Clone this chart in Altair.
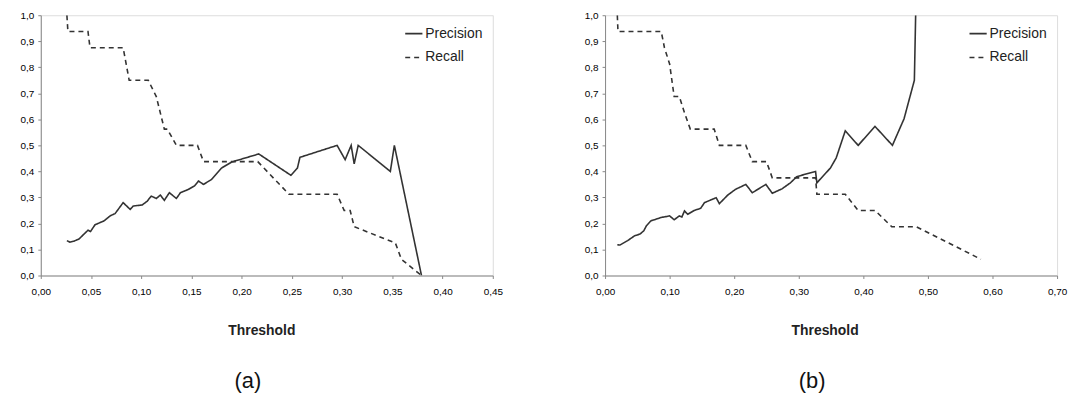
import altair as alt
import pandas as pd

# ---- panel (a) ----
a_prec_x = [0.026, 0.029, 0.033, 0.038, 0.043, 0.047, 0.0495, 0.054, 0.063, 0.069, 0.074, 0.082,
            0.089, 0.092, 0.101, 0.106, 0.110, 0.115, 0.119, 0.123, 0.128, 0.135, 0.139, 0.147,
            0.153, 0.157, 0.162, 0.170, 0.180, 0.190, 0.217, 0.249, 0.2555, 0.258, 0.295, 0.303,
            0.309, 0.312, 0.316, 0.348, 0.352, 0.379]
a_prec_y = [0.134, 0.128, 0.132, 0.140, 0.159, 0.174, 0.169, 0.195, 0.210, 0.229, 0.238, 0.280,
            0.254, 0.267, 0.271, 0.286, 0.305, 0.296, 0.309, 0.289, 0.318, 0.296, 0.318, 0.331,
            0.344, 0.363, 0.350, 0.369, 0.413, 0.436, 0.467, 0.385, 0.413, 0.454, 0.500, 0.445,
            0.500, 0.429, 0.500, 0.400, 0.500, 0.000]
a_rec_x = [0.026, 0.027, 0.047, 0.049, 0.082, 0.088, 0.107, 0.115, 0.119, 0.123, 0.126, 0.135,
           0.156, 0.162, 0.216, 0.247, 0.295, 0.302, 0.308, 0.312, 0.353, 0.359, 0.379]
a_rec_y = [1.0, 0.9375, 0.9375, 0.875, 0.875, 0.75, 0.75, 0.6875, 0.625, 0.5625, 0.5625, 0.5,
           0.5, 0.4375, 0.4375, 0.3125, 0.3125, 0.25, 0.25, 0.1875, 0.125, 0.0625, 0.0]

# ---- panel (b) ----
b_prec_x = [0.019, 0.023, 0.035, 0.046, 0.054, 0.060, 0.064, 0.071, 0.087, 0.100, 0.107, 0.115,
            0.119, 0.123, 0.128, 0.138, 0.148, 0.154, 0.172, 0.177, 0.190, 0.202, 0.218, 0.228,
            0.249, 0.259, 0.274, 0.287, 0.297, 0.326, 0.328, 0.349, 0.358, 0.372, 0.392, 0.418,
            0.445, 0.463, 0.479, 0.481]
b_prec_y = [0.118, 0.117, 0.134, 0.153, 0.159, 0.172, 0.191, 0.210, 0.223, 0.229, 0.214, 0.229,
            0.225, 0.248, 0.235, 0.250, 0.258, 0.280, 0.299, 0.276, 0.309, 0.331, 0.350, 0.318,
            0.350, 0.316, 0.333, 0.356, 0.380, 0.400, 0.356, 0.413, 0.452, 0.556, 0.500, 0.573,
            0.500, 0.602, 0.750, 1.000]
b_rec_x = [0.019, 0.020, 0.087, 0.092, 0.100, 0.107, 0.115, 0.123, 0.132, 0.169, 0.177, 0.218,
           0.228, 0.250, 0.259, 0.326, 0.328, 0.372, 0.392, 0.418, 0.444, 0.482, 0.582]
b_rec_y = [1.0, 0.9375, 0.9375, 0.875, 0.8125, 0.6875, 0.6875, 0.625, 0.5625, 0.5625, 0.5, 0.5,
           0.4375, 0.4375, 0.375, 0.375, 0.3125, 0.3125, 0.25, 0.25, 0.1875, 0.1875, 0.0625]

series = ["Precision", "Recall"]
x_ticks_a = [0.00, 0.05, 0.10, 0.15, 0.20, 0.25, 0.30, 0.35, 0.40, 0.45]
x_ticks_b = [0.00, 0.10, 0.20, 0.30, 0.40, 0.50, 0.60, 0.70]
y_ticks = [0.0, 0.1, 0.2, 0.3, 0.4, 0.5, 0.6, 0.7, 0.8, 0.9, 1.0]

FONT = "Liberation Sans, Arial, sans-serif"
AXIS_C = "#8a8a8a"
LINE_C = "#333333"


def frame(px, py, rx, ry):
    rows = []
    for i, (x, y) in enumerate(zip(px, py)):
        rows.append({"x": x, "y": y, "s": series[0], "o": i})
    for i, (x, y) in enumerate(zip(rx, ry)):
        rows.append({"x": x, "y": y, "s": series[1], "o": i})
    return pd.DataFrame(rows)


def panel(df, xmax, xticks, label, title_x):
    return alt.Chart(df).mark_line(strokeWidth=1.6, color=LINE_C, clip=True).encode(
        x=alt.X("x:Q", scale=alt.Scale(domain=[0, xmax], nice=False),
                axis=alt.Axis(values=xticks, title="Threshold", grid=False, labelFlush=False,
                              labelExpr="replace(format(datum.value, '.2f'), '.', ',')",
                              tickSize=3, labelPadding=8, titlePadding=27, titleX=title_x,
                              titleFontWeight="bold", titleFontSize=14, titleFont=FONT,
                              titleColor="#222222")),
        y=alt.Y("y:Q", scale=alt.Scale(domain=[0, 1], nice=False),
                axis=alt.Axis(values=y_ticks, title=None, grid=False, labelFlush=False,
                              labelExpr="replace(format(datum.value, '.1f'), '.', ',')",
                              tickSize=3, labelPadding=4, minExtent=27, maxExtent=27)),
        strokeDash=alt.StrokeDash("s:N", scale=alt.Scale(domain=series, range=[[1, 0], [5, 4]]),
                                  legend=alt.Legend(title=None, orient="none", legendX=366,
                                                    legendY=9, symbolType="stroke",
                                                    symbolSize=300, symbolStrokeWidth=1.6,
                                                    symbolStrokeColor=LINE_C, labelFont=FONT,
                                                    labelFontSize=14, labelColor="#222222",
                                                    labelOffset=2, rowPadding=7)),
        detail="s:N",
        order="o:Q",
    ).properties(
        width=455, height=262,
        title=alt.TitleParams(label, orient="bottom", fontSize=22, font=FONT,
                              fontWeight="normal", color="#111111", offset=34, dx=-19),
    )


chart_a = panel(frame(a_prec_x, a_prec_y, a_rec_x, a_rec_y), 0.45, x_ticks_a, "(a)", 222)
chart_b = panel(frame(b_prec_x, b_prec_y, b_rec_x, b_rec_y), 0.70, x_ticks_b, "(b)", 221)

chart = alt.hconcat(chart_a, chart_b, spacing=74).resolve_scale(
    strokeDash="independent", x="independent"
).configure_view(stroke=AXIS_C, strokeWidth=1.5).configure_axis(
    domainColor=AXIS_C, tickColor=AXIS_C, domainWidth=1.5, tickWidth=1.5,
    labelFont=FONT, labelFontSize=12, labelColor="#555555",
).configure(padding={"left": 5, "top": 0, "right": 0, "bottom": 0})

chart.save("out.html", embed_options={"renderer": "svg", "actions": False})
